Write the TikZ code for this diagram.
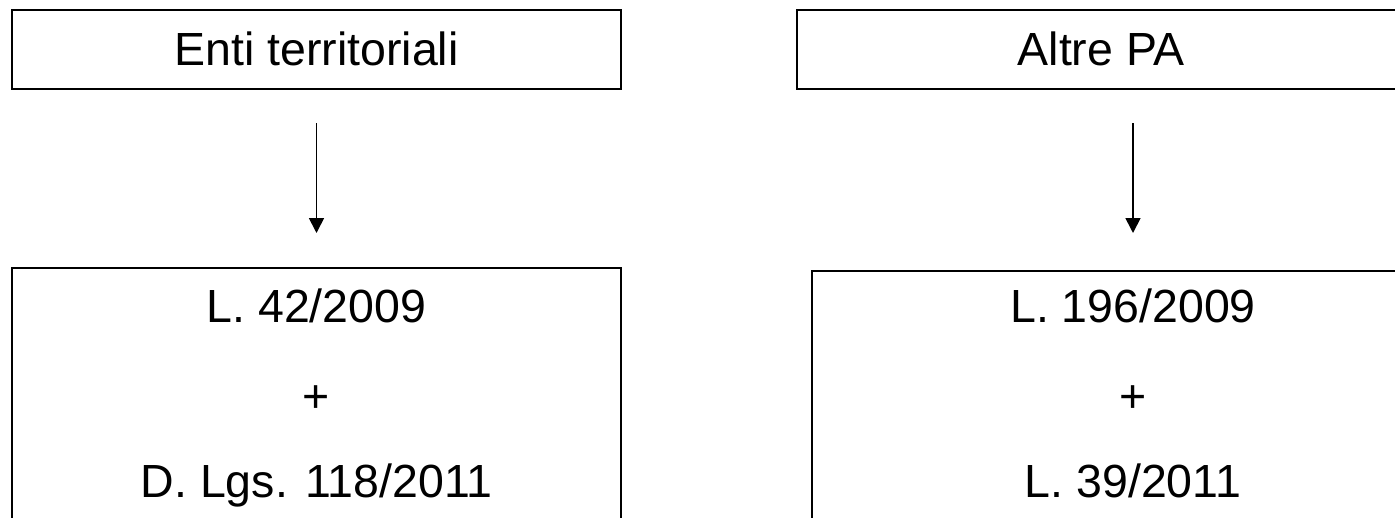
\documentclass[tikz,border=0pt]{standalone}
\usepackage{fontspec}
\setmainfont{Liberation Sans}
\usetikzlibrary{arrows.meta}
\begin{document}
\begin{tikzpicture}[x=1pt,y=-1pt,
  box/.style={draw=black,line width=1.7pt,inner sep=0pt},
  lbl/.style={anchor=base,inner sep=0pt,font=\fontsize{46.5}{55}\selectfont},
  conn/.style={line width=1.7pt,-{Triangle[width=15pt,length=15pt]}}]
\useasboundingbox (0,0) rectangle (1395,517);
% boxes
\node[box,minimum width=609pt,minimum height=79pt] (tl) at (316.5,49.5) {};
\node[box,minimum width=606pt,minimum height=79pt] (tr) at (1100,49.5) {};
\node[box,minimum width=609pt,minimum height=332pt] (bl) at (316.5,434) {};
\node[box,minimum width=642pt,minimum height=329pt] (br) at (1133,435.5) {};
% texts
\node[lbl] (t1) at (316.5,65) {Enti territoriali};
\node[lbl,anchor=base east] (t2) at (1185,65) {Altre PA};
\node[lbl] (b1) at (316.5,322) {L. 42/2009};
\node[lbl] (b2) at (316.5,412) {+};
\node[lbl] (b3) at (316.5,497) {D. Lgs. 118/2011};
\node[lbl] (c1) at (1133,322) {L. 196/2009};
\node[lbl] (c2) at (1133,412) {+};
\node[lbl] (c3) at (1133,497) {L. 39/2011};
% arrows
\coordinate (a1s) at (316.5,123);
\coordinate (a1e) at (316.5,233);
\coordinate (a2s) at (1133,123);
\coordinate (a2e) at (1133,233);
\draw[conn] (a1s) -- (a1e);
\draw[conn] (a2s) -- (a2e);
\end{tikzpicture}
\end{document}
